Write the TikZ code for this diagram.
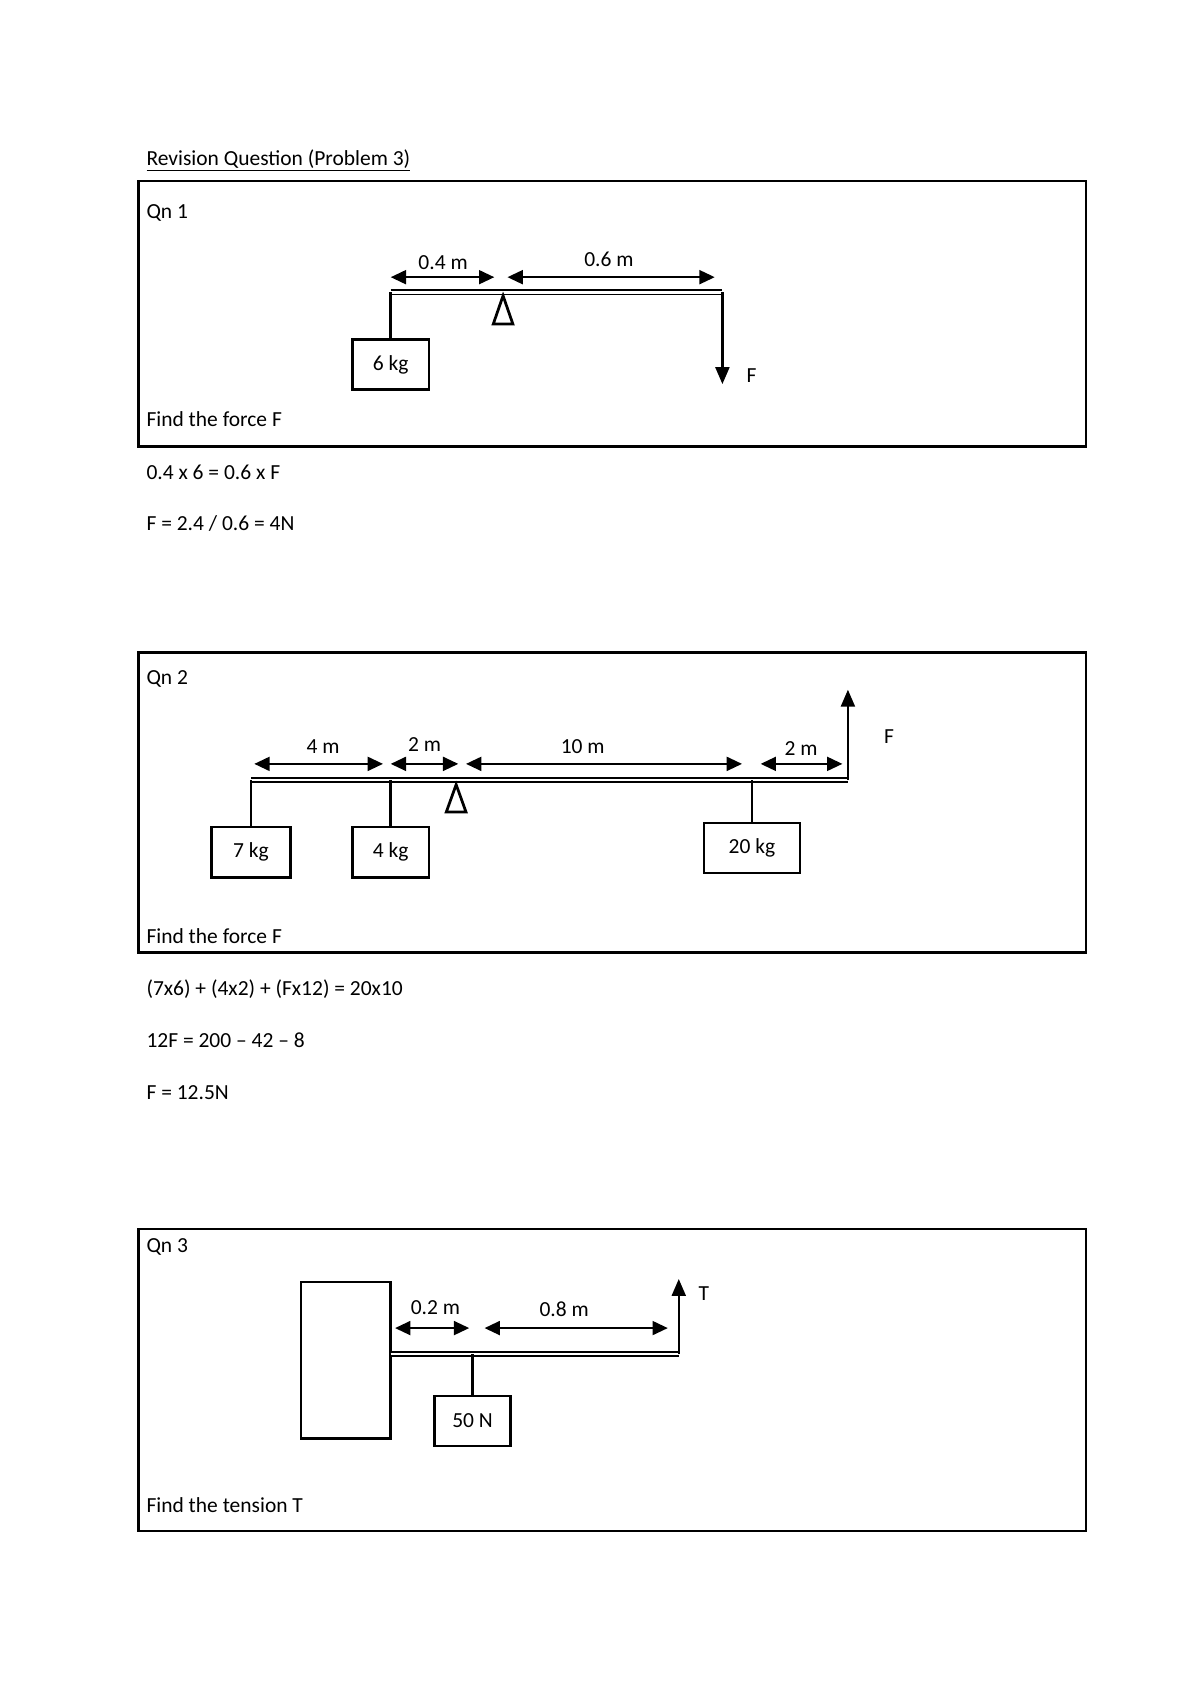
\documentclass[tikz,border=0pt]{standalone}
\usepackage{fontspec}
\setmainfont{Carlito}
\usetikzlibrary{arrows.meta}
\begin{document}
\begin{tikzpicture}[x=0.025cm,y=-0.025cm,font=\fontsize{14}{16}\selectfont,
    txt/.style={anchor=west,inner sep=0pt},
    mass/.style={draw,line width=1.6pt,minimum width=#1,minimum height=1.15cm,inner sep=0pt},
    dim/.style={line width=1.6pt,{Triangle[length=10pt,width=9pt]}-{Triangle[length=10pt,width=9pt]}},
    force/.style={line width=1.6pt,-{Triangle[length=11pt,width=9pt]}},
    beam/.style={draw,line width=1.2pt,double distance=1.5pt},
    pivot/.style={draw,line width=1.8pt}]
    \useasboundingbox (0,0) rectangle (1100,1556);
    \node[txt] (title) at (134,147) {\underline{Revision Question (Problem 3)}};
    % question 1
    \draw[line width=1.6pt] (127,166) rectangle (995,409);
    \node[txt] (qa) at (134,195) {Qn 1};
    \node[txt] (qafind) at (134,384) {Find the force F};
    \draw[beam] (358,268) -- (662,268);
    \node[mass=1.75cm] (m6) at (358,334) {6 kg};
    \draw[line width=1.6pt] (358,268) -- (m6.north);
    \draw[pivot] (461,271) -- (452,297) -- (470,297) -- cycle;
    \coordinate (fa) at (662,352);
    \draw[force] (662,268) -- (fa);
    \node[txt] (fla) at (684,344) {F};
    \draw[dim] (358,254) -- (453,254); \node (da) at (406,241) {0.4 m};
    \draw[dim] (465,254) -- (655,254); \node (db) at (558,238) {0.6 m};
    \node[txt] (sa) at (134,433) {0.4 x 6 = 0.6 x F};
    \node[txt] (sb) at (134,480) {F = 2.4 / 0.6 = 4N};
    % question 2
    \draw[line width=1.6pt] (127,598) rectangle (995,873);
    \node[txt] (qb) at (134,622) {Qn 2};
    \node[txt] (qbfind) at (134,858) {Find the force F};
    \draw[beam] (230,715) -- (777,715);
    \node[mass=1.8cm] (m7) at (230,781) {7 kg};
    \node[mass=1.75cm] (m4) at (358,781) {4 kg};
    \node[mass=2.2cm] (m20) at (689,777) {20 kg};
    \draw[line width=1.6pt] (230,715) -- (m7.north);
    \draw[line width=1.6pt] (358,715) -- (m4.north);
    \draw[line width=1.6pt] (689,715) -- (m20.north);
    \draw[pivot] (418,719) -- (409,744) -- (427,744) -- cycle;
    \coordinate (fb) at (777,632);
    \draw[force] (777,715) -- (fb);
    \node[txt] (flb) at (810,675) {F};
    \draw[dim] (233,700) -- (351,700); \node (dc) at (296,684) {4 m};
    \draw[dim] (358,700) -- (420,700); \node (dd) at (389,682) {2 m};
    \draw[dim] (427,700) -- (680,700); \node (de) at (534,684) {10 m};
    \draw[dim] (697,700) -- (772,700); \node (df) at (734,686) {2 m};
    \node[txt] (sc) at (134,906) {(7x6) + (4x2) + (Fx12) = 20x10};
    \node[txt] (sd) at (134,953) {12F = 200 -- 42 -- 8};
    \node[txt] (se) at (134,1001) {F = 12.5N};
    % question 3
    \draw[line width=1.6pt] (127,1126) rectangle (995,1403);
    \node[txt] (qc) at (134,1143) {Qn 3};
    \node[txt] (qcfind) at (134,1379) {Find the tension T};
    \draw[line width=1.6pt] (276,1175) rectangle (358,1318);
    \draw[beam] (358,1241) -- (622,1241);
    \node[mass=1.75cm] (m50) at (433,1302) {50 N};
    \draw[line width=1.6pt] (433,1241) -- (m50.north);
    \coordinate (tc) at (622,1172);
    \draw[force] (622,1241) -- (tc);
    \node[txt] (tlc) at (640,1185) {T};
    \draw[dim] (362,1217) -- (430,1217); \node (dg) at (399,1198) {0.2 m};
    \draw[dim] (444,1217) -- (612,1217); \node (dh) at (517,1200) {0.8 m};
\end{tikzpicture}
\end{document}
